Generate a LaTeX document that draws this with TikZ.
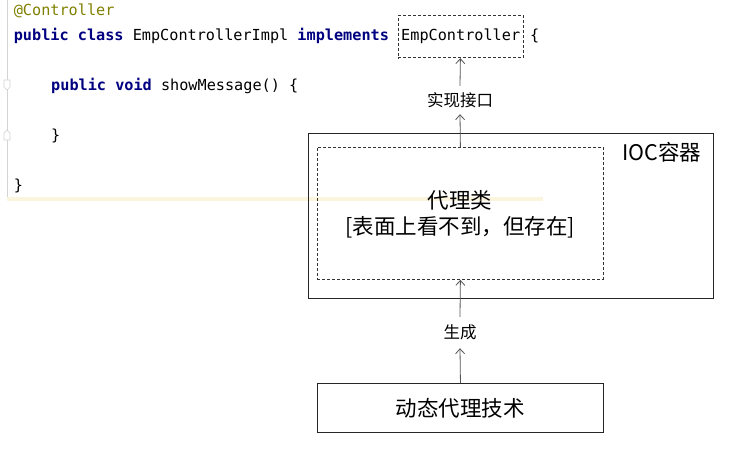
\documentclass[tikz,border=0pt]{standalone}
\usepackage{fontspec}
\newfontfamily\cjk{Noto Sans CJK SC}
\newfontfamily\codefont{DejaVu Sans Mono}
\usetikzlibrary{arrows.meta}
\definecolor{kw}{HTML}{000080}
\definecolor{anno}{HTML}{808000}
\definecolor{hl}{HTML}{FCF5DD}
\definecolor{gut}{HTML}{D4D4D4}
\definecolor{connc}{HTML}{555555}
\begin{document}
\begin{tikzpicture}[x=1pt,y=-1pt,
  code/.style={anchor=base west, inner sep=0pt, font=\codefont\fontsize{15.2}{18}\selectfont},
  dbox/.style={draw=black!80, dash pattern=on 3pt off 2pt, line width=0.8pt, inner sep=0pt},
  sbox/.style={draw=black!85, line width=0.9pt, inner sep=0pt},
  lbl/.style={font=\cjk\fontsize{16.5}{20}\selectfont, inner sep=0pt},
  big/.style={font=\cjk\fontsize{21.5}{24}\selectfont, inner sep=0pt},
  connector/.style={draw=connc, line width=0.8pt, -{Straight Barb[length=5pt,width=9pt]}}
]
\useasboundingbox (0,0) rectangle (734,448);
\fill[white] (0,0) rectangle (734,448);
% editor gutter and highlight
\draw[gut, line width=0.8pt] (7,0) -- (7,200);
\fill[hl] (7,197) rectangle (543,201);
\draw[gut, fill=white, line width=0.7pt] (4,80) -- (10,80) -- (10,87) -- (7,90) -- (4,87) -- cycle;
\draw[gut, fill=white, line width=0.7pt] (4,140) -- (10,140) -- (10,133) -- (7,130) -- (4,133) -- cycle;
% code
\node[code] (l1) at (13.6,15.7) {\color{anno}@Controller};
\node[code] (l2) at (13.6,40.7) {\textcolor{kw}{\bfseries public class} EmpControllerImpl \textcolor{kw}{\bfseries implements}};
\node[code] (ifname) at (401,40.7) {EmpController};
\node[code] (l2b) at (530,40.7) {\{};
\node[code] (l4) at (51,90.7) {\textcolor{kw}{\bfseries public void} showMessage() \{};
\node[code] (l6) at (51,140.7) {\}};
\node[code] (l8) at (13.6,190.7) {\}};
% interface box
\node[dbox, minimum width=125, minimum height=42.6, anchor=north west] (iface) at (397.5,14.7) {};
% IOC container
\node[sbox, minimum width=405, minimum height=165, anchor=north west] (ioc) at (308,133) {};
\node[big] (ioclbl) at (662,152) {IOC容器};
% proxy class
\node[dbox, minimum width=286, minimum height=132, anchor=north west] (proxy) at (317,147) {};
\node[big] (proxy1) at (460,200) {代理类};
\node[big] (proxy2) at (460,227) {[表面上看不到，但存在]};
% dynamic proxy technique
\node[sbox, minimum width=286, minimum height=49, anchor=north west, big] (tech) at (317,383) {动态代理技术};
% edge labels
\node[lbl, minimum height=28] (impl) at (460,100) {实现接口};
\node[lbl, minimum height=31] (gen) at (460,332.5) {生成};
% connectors
\draw[connector] (proxy.north) -- (impl.south);
\draw[connector] (impl.north) -- (iface.south);
\draw[connector] (tech.north) -- (gen.south);
\draw[connector] (gen.north) -- (proxy.south);
\end{tikzpicture}
\end{document}
